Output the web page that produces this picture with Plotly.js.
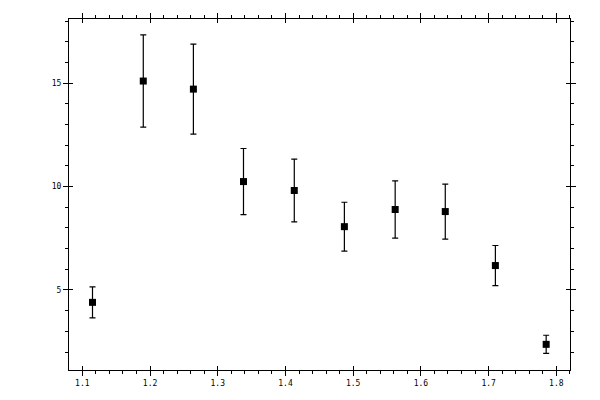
<!DOCTYPE html>
<html>
<head>
<meta charset="utf-8">
<script src="https://cdn.plot.ly/plotly-3.0.1.min.js"></script>
<style>
  html, body { margin: 0; padding: 0; background: #fff; }
  #graph { width: 600px; height: 400px; }
</style>
</head>
<body>
<div id="graph"></div>
<script>
// values
var xVals = [1.115, 1.190, 1.264, 1.338, 1.413, 1.487, 1.562, 1.636, 1.710, 1.785];
var yVals = [4.40, 15.10, 14.71, 10.24, 9.81, 8.06, 8.89, 8.79, 6.18, 2.37];
var yErr  = [0.75, 2.23, 2.18, 1.60, 1.52, 1.18, 1.38, 1.33, 0.97, 0.44];

var trace1 = {
  x: xVals,
  y: yVals,
  mode: 'markers',
  type: 'scatter',
  marker: { symbol: 'square', size: 7, color: '#000' },
  error_y: { type: 'data', array: yErr, visible: true, color: '#000', thickness: 1.2, width: 3 },
  showlegend: false
};

var font = { family: 'DejaVu Sans Mono, monospace', size: 8, color: '#000' };

var layout = {
  width: 600,
  height: 400,
  margin: { l: 69, r: 30, t: 19, b: 30 },
  paper_bgcolor: '#fff',
  plot_bgcolor: '#fff',
  font: font,
  showlegend: false,
  xaxis: {
    range: [1.0803, 1.8202],
    tick0: 1.1, dtick: 0.1,
    ticks: 'outside', ticklen: 5, tickwidth: 1, tickcolor: '#000',
    minor: { dtick: 0.02, ticks: 'outside', ticklen: 3, tickwidth: 1, tickcolor: '#000' },
    showline: true, linecolor: '#000', linewidth: 1,
    mirror: 'ticks', showgrid: false, zeroline: false,
    tickfont: font
  },
  xaxis2: {
    overlaying: 'x', matches: 'x', side: 'bottom',
    tick0: 1.1, dtick: 0.1,
    ticks: 'inside', ticklen: 4, tickwidth: 1, tickcolor: '#000',
    mirror: 'ticks', showticklabels: false, showgrid: false, zeroline: false
  },
  yaxis: {
    range: [1.13, 18.1],
    tick0: 0, dtick: 5,
    ticks: 'outside', ticklen: 5, tickwidth: 1, tickcolor: '#000',
    minor: { dtick: 1, ticks: 'outside', ticklen: 3, tickwidth: 1, tickcolor: '#000' },
    showline: true, linecolor: '#000', linewidth: 1,
    mirror: 'ticks', showgrid: false, zeroline: false,
    tickfont: font
  },
  yaxis2: {
    overlaying: 'y', matches: 'y', side: 'left',
    tick0: 0, dtick: 5,
    ticks: 'inside', ticklen: 4, tickwidth: 1, tickcolor: '#000',
    mirror: 'ticks', showticklabels: false, showgrid: false, zeroline: false
  }
};

// empty trace to bring the inside tick axes to life
var trace2 = { x: [], y: [], xaxis: 'x2', yaxis: 'y2', type: 'scatter', mode: 'markers', showlegend: false };

Plotly.newPlot('graph', [trace1, trace2], layout, { staticPlot: true });
</script>
</body>
</html>
